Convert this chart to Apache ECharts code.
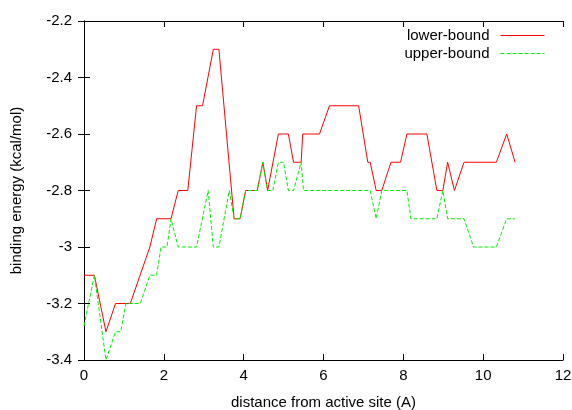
<!DOCTYPE html>
<html><head><meta charset="utf-8">
<script src="https://cdn.jsdelivr.net/npm/echarts@6/dist/echarts.min.js"></script>
<style>html,body{margin:0;padding:0;background:#fff}#c{width:572px;height:410px}</style>
</head><body><div id="c"></div>
<script>
const lowerX = [0, 0.26, 0.55, 0.79, 1.16, 1.65, 1.82, 2.18, 2.36, 2.6, 2.82, 2.97, 3.24, 3.38, 3.76, 3.91, 4.05, 4.34, 4.48, 4.6, 4.87, 5.12, 5.25, 5.44, 5.48, 5.9, 6.15, 6.88, 7.11, 7.17, 7.32, 7.46, 7.69, 7.93, 8.09, 8.59, 8.84, 8.99, 9.11, 9.28, 9.52, 10.33, 10.59, 10.8];
const lowerY = [-3.1, -3.1, -3.3, -3.2, -3.2, -3.0, -2.9, -2.9, -2.8, -2.8, -2.5, -2.5, -2.3, -2.3, -2.9, -2.9, -2.8, -2.8, -2.7, -2.8, -2.6, -2.6, -2.7, -2.7, -2.6, -2.6, -2.5, -2.5, -2.7, -2.7, -2.8, -2.8, -2.7, -2.7, -2.6, -2.6, -2.8, -2.8, -2.7, -2.8, -2.7, -2.7, -2.6, -2.7];
const upperX = [0, 0.26, 0.55, 0.79, 0.92, 1.05, 1.41, 1.65, 1.82, 1.93, 2.08, 2.18, 2.36, 2.82, 3.11, 3.24, 3.38, 3.64, 3.76, 3.91, 4.05, 4.34, 4.48, 4.6, 4.73, 4.87, 5.0, 5.12, 5.25, 5.44, 5.5, 7.17, 7.32, 7.46, 8.09, 8.19, 8.84, 8.99, 9.11, 9.52, 9.76, 10.33, 10.59, 10.8];
const upperY = [-3.28, -3.1, -3.4, -3.3, -3.3, -3.2, -3.2, -3.1, -3.1, -3.0, -3.0, -2.9, -3.0, -3.0, -2.8, -3.0, -3.0, -2.8, -2.9, -2.9, -2.8, -2.8, -2.7, -2.8, -2.8, -2.7, -2.7, -2.8, -2.8, -2.7, -2.8, -2.8, -2.9, -2.8, -2.8, -2.9, -2.9, -2.8, -2.9, -2.9, -3.0, -3.0, -2.9, -2.9];
const xTicks = [0, 2, 4, 6, 8, 10, 12];
const yTicks = [-3.4, -3.2, -3, -2.8, -2.6, -2.4, -2.2];

const font = 'Liberation Sans';
const axisCommon = {
  axisLine: {show: true, lineStyle: {color: '#000', width: 1}},
  axisTick: {show: true, inside: true, length: 6, lineStyle: {color: '#000'}},
  splitLine: {show: false}
};
const chart = echarts.init(document.getElementById('c'), null, {renderer: 'canvas'});
chart.setOption({
  animation: false,
  backgroundColor: '#fff',
  grid: {left: 84, right: 9, top: 21, bottom: 50, containLabel: false, outerBoundsMode: 'none'},
  legend: {
    orient: 'vertical', right: 22, top: 23, align: 'right',
    itemWidth: 44, itemHeight: 12, itemGap: 3,
    itemStyle: {opacity: 0},
    lineStyle: {width: 1},
    textStyle: {fontFamily: font, fontSize: 15, color: '#000', padding: [0, 6, 0, 0]},
    data: ['lower-bound', 'upper-bound']
  },
  xAxis: [
    Object.assign({type: 'value', min: xTicks[0], max: xTicks[xTicks.length-1], interval: 2,
      name: 'distance from active site (A)', nameLocation: 'middle', nameGap: 35,
      nameTextStyle: {fontFamily: font, fontSize: 15, color: '#000'},
      axisLabel: {fontFamily: font, fontSize: 15, color: '#000', margin: 8}}, axisCommon),
    Object.assign({type: 'value', position: 'top', min: xTicks[0], max: xTicks[xTicks.length-1], interval: 2,
      axisLabel: {show: false}}, axisCommon)
  ],
  yAxis: [
    Object.assign({type: 'value', min: yTicks[0], max: yTicks[yTicks.length-1], interval: 0.2,
      name: 'binding energy (kcal/mol)', nameLocation: 'middle', nameGap: 60, nameRotate: 90,
      nameTextStyle: {fontFamily: font, fontSize: 15, color: '#000'},
      axisLabel: {fontFamily: font, fontSize: 15, color: '#000', margin: 12,
        formatter: v => String(Math.round(v * 10) / 10)}}, axisCommon),
    Object.assign({type: 'value', position: 'right', min: yTicks[0], max: yTicks[yTicks.length-1], interval: 0.2,
      axisLabel: {show: false}}, axisCommon)
  ],
  series: [
    {name: 'lower-bound', type: 'line', showSymbol: false, symbol: 'none',
      data: lowerX.map((x, i) => [x, lowerY[i]]),
      lineStyle: {color: '#ff0000', width: 1}, itemStyle: {color: '#ff0000'}},
    {name: 'upper-bound', type: 'line', showSymbol: false, symbol: 'none',
      data: upperX.map((x, i) => [x, upperY[i]]),
      lineStyle: {color: '#00ee00', width: 1, type: [4, 2]}, itemStyle: {color: '#00ee00'}}
  ]
});
</script></body></html>
